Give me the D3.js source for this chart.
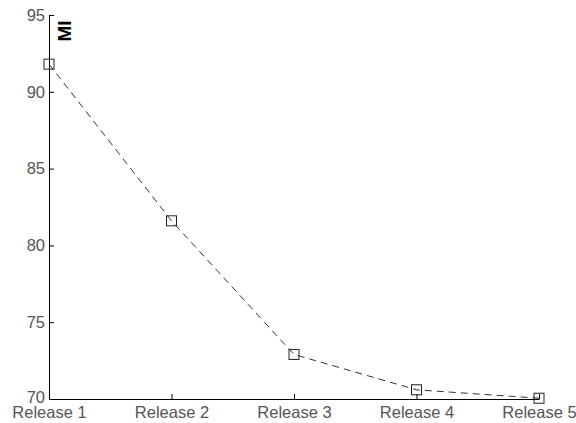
<!DOCTYPE html>
<html>
<head>
<meta charset="utf-8">
<script src="https://cdn.jsdelivr.net/npm/d3@7.9.0/dist/d3.min.js"></script>
<style>
  body { margin: 0; background: #fff; }
  svg text { font-family: "Liberation Sans", Arial, sans-serif; }
</style>
</head>
<body>
<svg id="chart" width="576" height="423"></svg>
<script>
const releases = ['Release 1', 'Release 2', 'Release 3', 'Release 4', 'Release 5'];
const miValues = [91.8, 81.6, 72.9, 70.6, 70.05];
const yTicks = [70, 75, 80, 85, 90, 95];

const svg = d3.select('#chart');
const margin = { left: 49, right: 37, top: 15, bottom: 24 };
const width = 576 - margin.left - margin.right;
const height = 423 - margin.top - margin.bottom;

const g = svg.append('g').attr('transform', `translate(${margin.left},${margin.top})`);

let x = d3.scalePoint().domain(releases).range([0, width]);
let y = d3.scaleLinear().domain([70, 95]).range([height, 0]);

// y axis, ticks point inward like matlab
let yAxis = g.append('g')
  .call(d3.axisLeft(y).tickValues(yTicks).tickSize(-5).tickPadding(4).tickSizeOuter(0));
yAxis.select('.domain').attr('stroke', '#000');
yAxis.selectAll('.tick line').attr('stroke', '#000');
yAxis.selectAll('.tick text')
  .attr('font-size', 16.5)
  .attr('fill', '#555')
  .attr('dy', (d) => (d === 70 ? '0.2em' : '0.32em'));

let xAxis = g.append('g')
  .attr('transform', `translate(0,${height})`)
  .call(d3.axisBottom(x).tickSize(-5).tickPadding(5).tickSizeOuter(0));
xAxis.select('.domain').attr('stroke', '#000');
xAxis.selectAll('.tick line').attr('stroke', '#000');
xAxis.selectAll('.tick text')
  .attr('font-size', 16.5)
  .attr('fill', '#555')
  .attr('dy', '0.86em');

let line = d3.line()
  .x((d, i) => x(releases[i]))
  .y((d) => y(d));

g.append('path')
  .datum(miValues)
  .attr('d', line)
  .attr('fill', 'none')
  .attr('stroke', '#333')
  .attr('stroke-width', 1)
  .attr('stroke-dasharray', '7,5');

g.selectAll('rect.marker')
  .data(miValues)
  .join('rect')
  .attr('class', 'marker')
  .attr('x', (d, i) => x(releases[i]) - 5)
  .attr('y', (d) => y(d) - 5)
  .attr('width', 10)
  .attr('height', 10)
  .attr('fill', 'none')
  .attr('stroke', '#222')
  .attr('stroke-width', 1);

// y label
g.append('text')
  .attr('transform', `translate(${64 - margin.left},${31 - margin.top}) rotate(-90)`)
  .attr('text-anchor', 'middle')
  .attr('dy', '0.36em')
  .attr('font-size', 19)
  .attr('font-weight', 'bold')
  .text('MI');
</script>
</body>
</html>
